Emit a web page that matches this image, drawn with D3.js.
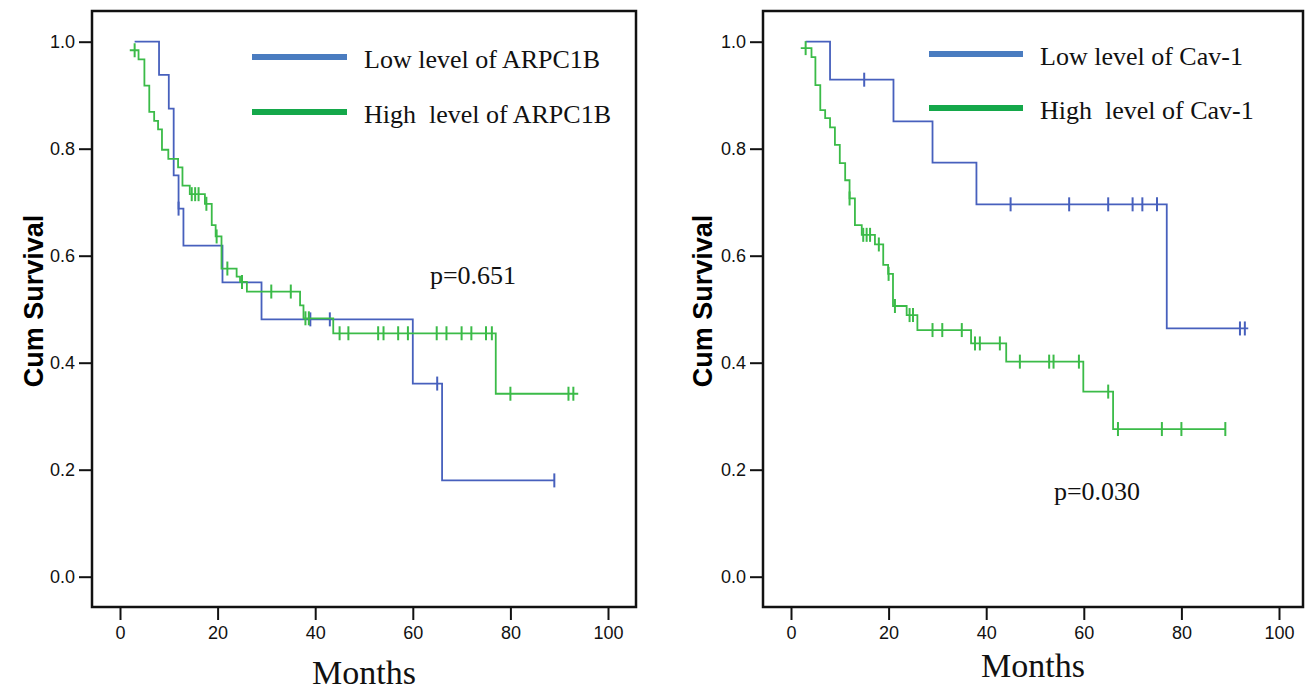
<!DOCTYPE html>
<html>
<head>
<meta charset="utf-8">
<script src="https://cdn.jsdelivr.net/npm/d3@7"></script>
<style>
  body { margin: 0; background: #fff; }
  svg { display: block; }
</style>
</head>
<body>
<svg id="chart" width="1309" height="693"></svg>
<script>
// axis ticks
const xTicks = [0, 20, 40, 60, 80, 100];
const yTicks = [0, 0.2, 0.4, 0.6, 0.8, 1.0];

// ARPC1B panel, low expression group
const arpLowTime = [3, 8, 10, 11, 12, 13, 21, 29, 60, 66];
const arpLowSurv = [1.0, 0.938, 0.875, 0.75, 0.688, 0.619, 0.55, 0.481, 0.361, 0.18];
const arpLowCensor = [12, 39, 43, 65, 89];
const arpLowEnd = 89;

// ARPC1B panel, high expression group
const arpHighTime = [2, 3.8, 5, 6, 7, 7.8, 8.6, 9.9, 11.9, 12.8, 14.3, 17.4, 18.8, 19.6, 20.8, 23.9, 24.6, 26, 36.9, 37.6, 43.7, 77];
const arpHighSurv = [0.984, 0.967, 0.918, 0.869, 0.852, 0.836, 0.798, 0.781, 0.765, 0.731, 0.715, 0.697, 0.657, 0.636, 0.576, 0.561, 0.551, 0.533, 0.507, 0.483, 0.455, 0.342];
const arpHighCensor = [3, 14.7, 15.4, 16.1, 17.7, 19.8, 22, 25, 31, 35, 38, 38.7, 45, 46.8, 52.9, 54, 57, 59, 64.9, 66.9, 70, 72, 75, 76.2, 80, 91.9, 92.9];
const arpHighEnd = 93.9;

// Cav-1 panel, low expression group
const cavLowTime = [3, 8, 21, 29, 38, 77];
const cavLowSurv = [1.0, 0.929, 0.851, 0.774, 0.696, 0.464];
const cavLowCensor = [15, 45, 57, 65, 70, 72, 75, 92, 93];
const cavLowEnd = 93.7;

// Cav-1 panel, high expression group
const cavHighTime = [2, 4.2, 5, 6, 7, 8, 9, 10, 11.1, 12, 13.1, 14.5, 17.2, 18.9, 19.9, 20.9, 23.7, 25.9, 36.9, 44.1, 59.9, 66];
const cavHighSurv = [0.988, 0.971, 0.919, 0.872, 0.857, 0.840, 0.807, 0.773, 0.741, 0.707, 0.657, 0.639, 0.621, 0.583, 0.566, 0.506, 0.489, 0.461, 0.436, 0.402, 0.346, 0.276];
const cavHighCensor = [3, 12, 14.8, 15.5, 16.2, 18, 20, 21.3, 24.3, 25, 29, 31, 35, 37.7, 38.7, 42.8, 46.9, 52.9, 53.8, 59, 65, 67, 76, 80, 89];
const cavHighEnd = 89;

const lineBlue = "#4760bd", lineGreen = "#3bbb48";
const keyBlue = "#4a7cc0", keyGreen = "#14a84a";

const svg = d3.select("#chart");

const panels = [
  {
    left: 92, right: 636,
    groups: [
      {name: "Low level of ARPC1B", time: arpLowTime, surv: arpLowSurv, censor: arpLowCensor, end: arpLowEnd, color: lineBlue, key: keyBlue},
      {name: "High  level of ARPC1B", time: arpHighTime, surv: arpHighSurv, censor: arpHighCensor, end: arpHighEnd, color: lineGreen, key: keyGreen}
    ],
    legend: {x1: 252, x2: 347, y: 57, gap: 55, tx: 364},
    pText: "p=0.651", px: 473, py: 284,
    ylabX: 34, monthsY: 684
  },
  {
    left: 763, right: 1303,
    groups: [
      {name: "Low level of Cav-1", time: cavLowTime, surv: cavLowSurv, censor: cavLowCensor, end: cavLowEnd, color: lineBlue, key: keyBlue},
      {name: "High  level of Cav-1", time: cavHighTime, surv: cavHighSurv, censor: cavHighCensor, end: cavHighEnd, color: lineGreen, key: keyGreen}
    ],
    legend: {x1: 929, x2: 1023, y: 54, gap: 54, tx: 1040},
    pText: "p=0.030", px: 1097, py: 500,
    ylabX: 703, monthsY: 677
  }
];

const frameTop = 11, frameBottom = 607;

panels.forEach(p => {
  const g = svg.append("g");

  const x = d3.scaleLinear().domain([0, 100]).range([p.left + 28, p.left + 28 + 488]);
  const y = d3.scaleLinear().domain([0, 1]).range([576.7, 41.7]);

  // frame
  g.append("rect")
    .attr("x", p.left).attr("y", frameTop)
    .attr("width", p.right - p.left).attr("height", frameBottom - frameTop)
    .attr("fill", "none").attr("stroke", "#111").attr("stroke-width", 2.5);

  // axes
  const xAxis = g.append("g")
    .attr("transform", `translate(0,${frameBottom})`)
    .call(d3.axisBottom(x).tickValues(xTicks).tickSize(13).tickPadding(6).tickFormat(d3.format("d")));
  const yAxis = g.append("g")
    .attr("transform", `translate(${p.left},0)`)
    .call(d3.axisLeft(y).tickValues(yTicks).tickSize(13).tickPadding(4).tickFormat(d3.format(".1f")));
  [xAxis, yAxis].forEach(a => {
    a.select(".domain").remove();
    a.selectAll(".tick line").attr("stroke", "#111").attr("stroke-width", 2);
    a.selectAll(".tick text")
      .attr("fill", "#111")
      .style("font-family", "'Liberation Sans', Arial, sans-serif")
      .style("font-size", "18px");
  });

  // survival curves
  const line = d3.line()
    .x(d => x(d[0]))
    .y(d => y(d[1]))
    .curve(d3.curveStepAfter);

  p.groups.forEach(gr => {
    const pts = gr.time.map((t, i) => [t, gr.surv[i]]);
    pts.push([gr.end, gr.surv[gr.surv.length - 1]]);

    g.append("path")
      .datum(pts)
      .attr("d", line)
      .attr("fill", "none")
      .attr("stroke", gr.color)
      .attr("stroke-width", 1.8);

    // censored cases as small vertical ticks
    const survAt = t => {
      let s = gr.surv[0];
      gr.time.forEach((tt, i) => { if (tt <= t) s = gr.surv[i]; });
      return s;
    };
    g.selectAll(null)
      .data(gr.censor)
      .join("line")
      .attr("x1", d => x(d)).attr("x2", d => x(d))
      .attr("y1", d => y(survAt(d)) - 7)
      .attr("y2", d => y(survAt(d)) + 7)
      .attr("stroke", gr.color)
      .attr("stroke-width", 2);
  });

  // legend
  p.groups.forEach((gr, i) => {
    const ly = p.legend.y + i * p.legend.gap;
    g.append("line")
      .attr("x1", p.legend.x1).attr("x2", p.legend.x2)
      .attr("y1", ly).attr("y2", ly)
      .attr("stroke", gr.key).attr("stroke-width", 6);
    g.append("text")
      .attr("x", p.legend.tx).attr("y", ly + 11)
      .style("font-family", "'Liberation Serif', 'Times New Roman', serif")
      .style("font-size", "26px")
      .style("white-space", "pre")
      .attr("fill", "#111")
      .text(gr.name);
  });

  // p value
  g.append("text")
    .attr("x", p.px).attr("y", p.py)
    .attr("text-anchor", "middle")
    .style("font-family", "'Liberation Serif', 'Times New Roman', serif")
    .style("font-size", "26px")
    .attr("fill", "#111")
    .text(p.pText);

  // axis titles
  g.append("text")
    .attr("transform", `translate(${p.ylabX},${(frameTop + frameBottom) / 2 - 8}) rotate(-90)`)
    .attr("text-anchor", "middle")
    .attr("dy", "0.35em")
    .style("font-family", "'Liberation Sans', Arial, sans-serif")
    .style("font-size", "27px")
    .style("font-weight", "bold")
    .attr("fill", "#000")
    .text("Cum Survival");

  g.append("text")
    .attr("x", (p.left + p.right) / 2).attr("y", p.monthsY)
    .attr("text-anchor", "middle")
    .style("font-family", "'Liberation Serif', 'Times New Roman', serif")
    .style("font-size", "34px")
    .attr("fill", "#111")
    .text("Months");
});
</script>
</body>
</html>
